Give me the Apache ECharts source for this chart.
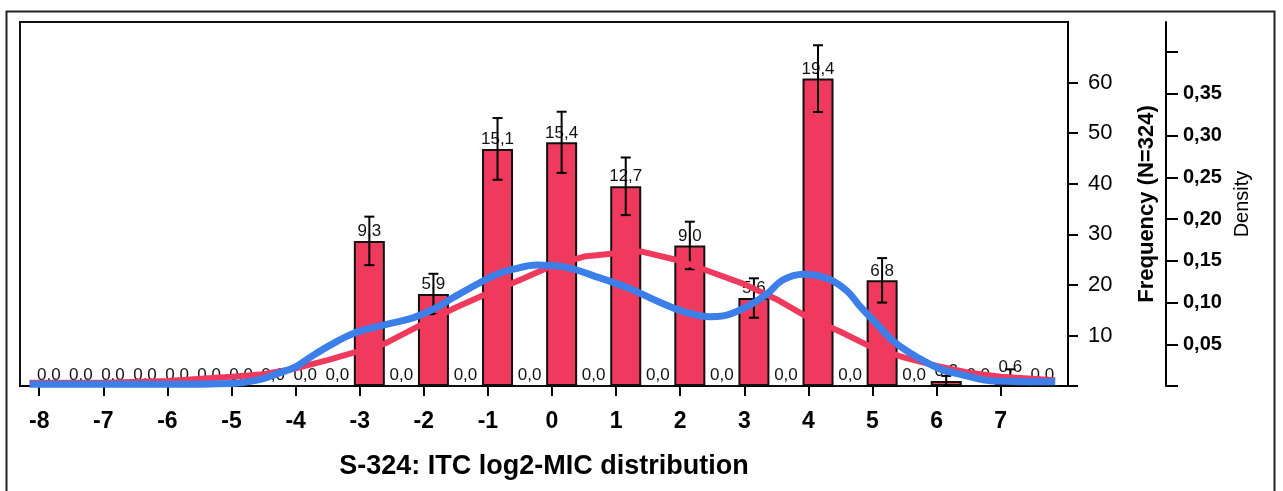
<!DOCTYPE html>
<html><head><meta charset="utf-8">
<script src="https://cdn.jsdelivr.net/npm/echarts@6/dist/echarts.min.js"></script>
<style>html,body{margin:0;padding:0;background:#fff}#c{width:1283px;height:491px}</style>
</head><body><div id="c"></div>
<script>
// half-unit bins (centres on the log2-MIC axis)
const binCenters = [-7.85,-7.35,-6.85,-6.35,-5.85,-5.35,-4.85,-4.35,-3.85,-3.35,
  -2.85,-2.35,-1.85,-1.35,-0.85,-0.35,0.15,0.65,1.15,1.65,2.15,2.65,3.15,3.65,
  4.15,4.65,5.15,5.65,6.15,6.65,7.15,7.65];
// bar heights as drawn on the Frequency axis
const counts = [0,0,0,0,0,0,0,0,0,0,
  28.7,0,18.2,0,46.9,0,48.2,0,39.5,0,27.8,0,17.4,0,
  60.8,0,20.9,0,1.0,0,1.9,0];
// percentage labels over each bin
const percents = [0,0,0,0,0,0,0,0,0,0,
  9.3,0,5.9,0,15.1,0,15.4,0,12.7,0,9.0,0,5.6,0,
  19.4,0,6.8,0,0.3,0,0.6,0];
// error bar half-lengths (Frequency units)
const errHalf = [0,0,0,0,0,0,0,0,0,0,
  4.8,0,4.0,0,6.1,0,6.05,0,5.7,0,4.7,0,3.9,0,
  6.6,0,4.4,0,1.0,0,1.4,0];
const xTicks = [-8,-7,-6,-5,-4,-3,-2,-1,0,1,2,3,4,5,6,7];
const freqTicks = [0,10,20,30,40,50,60];
const freqLabels = [10,20,30,40,50,60];
const densTicks = [0,0.05,0.10,0.15,0.20,0.25,0.30,0.35,0.40];
const densLabels = [0.05,0.10,0.15,0.20,0.25,0.30,0.35];
// red (normal fit) curve, density
const normalX = [-8.15,-7,-6,-5,-4.5,-4,-3.5,-3,-2.6,-2,-1.5,-1,-0.5,0,0.5,1,1.4,2,2.5,3,3.5,4,4.5,5,5.5,6,6.5,7,7.85];
const normalY = [0.004,0.004,0.006,0.011,0.014,0.021,0.031,0.042,0.051,0.075,0.094,0.111,0.127,0.144,0.155,0.159,0.161,0.150,0.136,0.122,0.104,0.082,0.065,0.046,0.034,0.024,0.016,0.011,0.007];
// blue (kernel density) curve, density
const kdeX = [-8.15,-6,-5,-4.6,-4.24,-4,-3.72,-3.41,-3.1,-2.68,-2.16,-1.85,-1.54,-1.12,-0.86,-0.6,-0.24,0.17,0.65,1.17,1.69,2.1,2.47,2.67,3.04,3.35,3.6,3.92,4.29,4.6,4.81,5.07,5.32,5.58,5.85,6.11,6.37,6.88,7.85];
const kdeY = [0.002,0.002,0.003,0.007,0.016,0.023,0.037,0.051,0.063,0.072,0.082,0.092,0.106,0.124,0.134,0.140,0.145,0.143,0.132,0.118,0.100,0.088,0.083,0.084,0.095,0.110,0.127,0.134,0.129,0.114,0.095,0.074,0.054,0.040,0.028,0.019,0.014,0.006,0.005];

const FONT = 'Liberation Sans, Arial, sans-serif';
const BAR = '#ef3a5d', BLUE = '#3d7fe9';
const fmtComma = (v, d) => v.toFixed(d).replace('.', ',');

const chart = echarts.init(document.getElementById('c'), null, {renderer: 'canvas'});
chart.setOption({
  animation: false,
  backgroundColor: '#fff',
  textStyle: {fontFamily: FONT},
  graphic: [{
    type: 'rect', left: 4, top: 9, silent: true,
    shape: {width: 1268, height: 520},
    style: {fill: 'none', stroke: '#222', lineWidth: 2}
  }],
  grid: {left: 20, right: 215, top: 22, bottom: 105, show: true,
    borderColor: '#111', borderWidth: 2, backgroundColor: 'transparent'},
  xAxis: {
    type: 'value', min: -8.3, max: 8.05,
    name: 'S-324: ITC log2-MIC distribution', nameLocation: 'middle', nameGap: 67,
    nameTextStyle: {fontFamily: FONT, fontWeight: 'bold', fontSize: 27, color: '#000'},
    axisLine: {show: true, onZero: false, lineStyle: {color: '#000', width: 2}},
    axisTick: {show: true, customValues: xTicks, length: 10, lineStyle: {color: '#000', width: 2}},
    axisLabel: {customValues: xTicks, margin: 24, fontFamily: FONT, fontWeight: 'bold', fontSize: 23, color: '#000'},
    splitLine: {show: false}
  },
  yAxis: [{
    type: 'value', position: 'right', min: 0, max: 72,
    name: 'Frequency (N=324)', nameLocation: 'middle', nameGap: 68, nameRotate: 90,
    nameTextStyle: {fontFamily: FONT, fontWeight: 'bold', fontSize: 22, color: '#000'},
    axisLine: {show: true, onZero: false, lineStyle: {color: '#000', width: 2}},
    axisTick: {show: true, customValues: freqTicks, length: 10, lineStyle: {color: '#000', width: 2}},
    axisLabel: {customValues: freqLabels, margin: 20, fontFamily: FONT, fontSize: 22, color: '#000'},
    splitLine: {show: false}
  }, {
    type: 'value', position: 'right', offset: 98, min: 0, max: 0.436,
    name: 'Density', nameLocation: 'middle', nameGap: 66, nameRotate: 90,
    nameTextStyle: {fontFamily: FONT, fontSize: 20, color: '#000'},
    axisLine: {show: true, onZero: false, lineStyle: {color: '#000', width: 2}},
    axisTick: {show: true, customValues: densTicks, length: 12, lineStyle: {color: '#000', width: 2}},
    axisLabel: {customValues: densLabels, margin: 17, fontFamily: FONT, fontWeight: 'bold', fontSize: 20, color: '#000',
      formatter: v => fmtComma(v, 2)},
    splitLine: {show: false}
  }],
  series: [{
    type: 'bar', xAxisIndex: 0, yAxisIndex: 0, z: 2,
    data: binCenters.map((c, i) => [c, counts[i]]),
    barWidth: 31,
    itemStyle: {color: BAR, borderColor: '#111', borderWidth: 2},
    label: {show: true, position: 'top', distance: 1, fontFamily: FONT, fontSize: 17, color: '#111',
      formatter: p => fmtComma(percents[p.dataIndex], 1)}
  }, {
    type: 'custom', xAxisIndex: 0, yAxisIndex: 0, z: 3,
    data: binCenters.map((c, i) => [c, counts[i], errHalf[i]]).filter(d => d[2] > 0),
    renderItem: (params, api) => {
      const x = api.value(0), y = api.value(1), e = api.value(2);
      const t = api.coord([x, y + e]), b = api.coord([x, Math.max(0, y - e)]);
      const hw = 5, st = {stroke: '#000', lineWidth: 2};
      return {type: 'group', children: [
        {type: 'line', shape: {x1: t[0], y1: t[1], x2: b[0], y2: b[1]}, style: st},
        {type: 'line', shape: {x1: t[0] - hw, y1: t[1], x2: t[0] + hw, y2: t[1]}, style: st},
        {type: 'line', shape: {x1: b[0] - hw, y1: b[1], x2: b[0] + hw, y2: b[1]}, style: st}
      ]};
    }
  }, {
    type: 'line', xAxisIndex: 0, yAxisIndex: 1, z: 4,
    data: normalX.map((x, i) => [x, normalY[i]]),
    showSymbol: false, smooth: false,
    lineStyle: {color: BAR, width: 6}
  }, {
    type: 'line', xAxisIndex: 0, yAxisIndex: 1, z: 5,
    data: kdeX.map((x, i) => [x, kdeY[i]]),
    showSymbol: false, smooth: 0.4,
    lineStyle: {color: BLUE, width: 7}
  }]
});
</script></body></html>
